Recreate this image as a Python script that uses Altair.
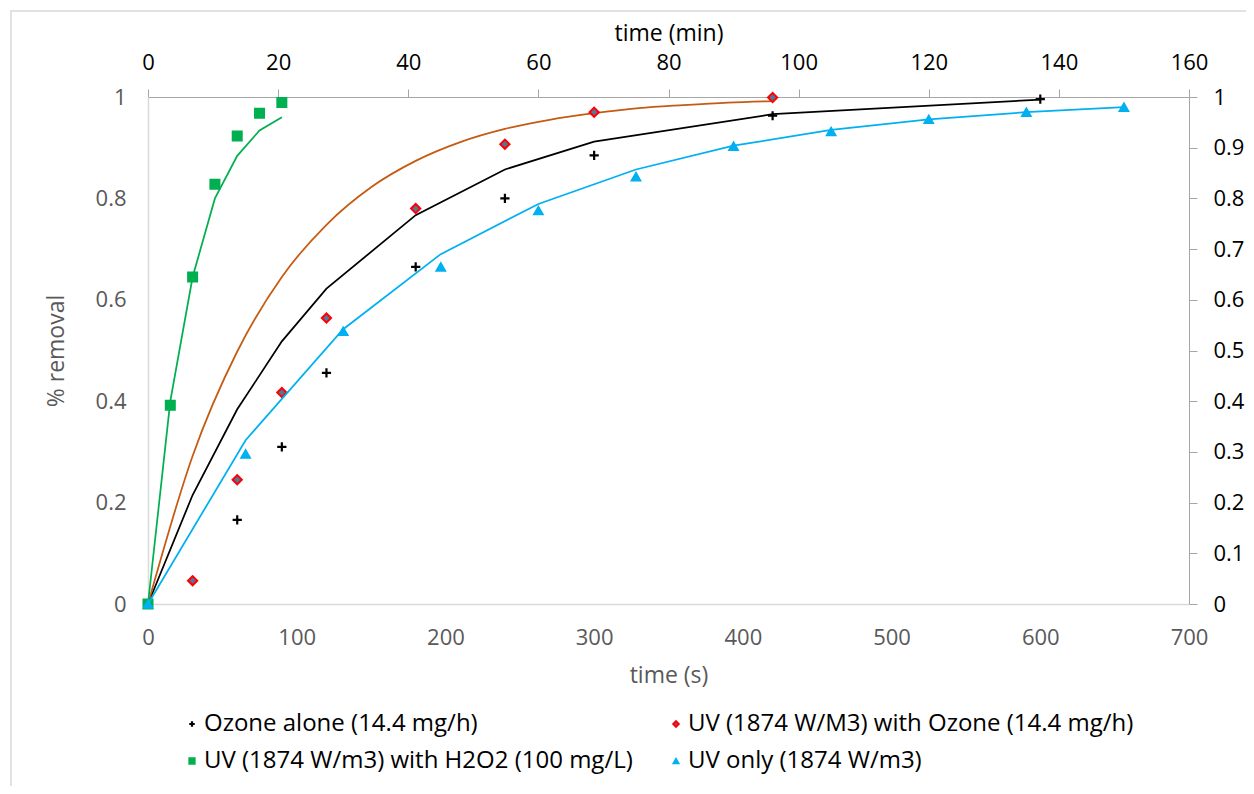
import altair as alt
import pandas as pd

# ---- measured points ----
names = ["Ozone alone (14.4 mg/h)", "UV (1874 W/M3) with Ozone (14.4 mg/h)",
         "UV (1874 W/m3) with H2O2 (100 mg/L)", "UV only (1874 W/m3)"]

ozone_t = [60, 90, 120, 180, 240, 300, 420, 600]
ozone_y = [0.166, 0.31, 0.456, 0.665, 0.80, 0.885, 0.963, 0.996]

uvoz_t = [30, 60, 90, 120, 180, 240, 300, 420]
uvoz_y = [0.046, 0.245, 0.417, 0.564, 0.780, 0.907, 0.970, 0.999]

h2o2_t = [0, 15, 30, 45, 60, 75, 90]
h2o2_y = [0, 0.392, 0.645, 0.828, 0.923, 0.968, 0.989]

uv_min = [0, 15, 30, 45, 60, 75, 90, 105, 120, 135, 150]
uv_y = [0, 0.296, 0.538, 0.665, 0.776, 0.843, 0.903, 0.932, 0.956, 0.970, 0.980]

# ---- model curves ----
ozone_fit_t = [0, 30, 60, 90, 120, 180, 240, 300, 420, 600]
ozone_fit_y = [0, 0.215, 0.384, 0.518, 0.622, 0.767, 0.857, 0.912, 0.966, 0.995]

uvoz_fit_t = [0, 30, 60, 90, 120, 150, 180, 210, 240, 270, 300, 330, 360, 390, 420]
uvoz_fit_y = [0, 0.292, 0.498, 0.645, 0.748, 0.822, 0.874, 0.911, 0.937, 0.955,
              0.968, 0.978, 0.984, 0.989, 0.992]

h2o2_fit_t = [0, 15, 30, 45, 60, 75, 90]
h2o2_fit_y = [0, 0.40, 0.645, 0.80, 0.884, 0.934, 0.960]

uv_fit_min = [0, 15, 30, 45, 60, 75, 90, 105, 120, 135, 150]
uv_fit_y = [0, 0.323, 0.542, 0.690, 0.789, 0.857, 0.904, 0.935, 0.956, 0.970, 0.980]

# ---- axis tick values ----
sec_ticks = [0, 100, 200, 300, 400, 500, 600, 700]
min_ticks = [0, 20, 40, 60, 80, 100, 120, 140, 160]
left_ticks = [0, 0.2, 0.4, 0.6, 0.8, 1]
right_ticks = [0, 0.1, 0.2, 0.3, 0.4, 0.5, 0.6, 0.7, 0.8, 0.9, 1]

FONT = "Open Sans"
GREY_TXT = "#595959"
LBL = 22
TTL = 23

fills = ["transparent", "#55759F", "#00B050", "#00B0F0"]
strokes = ["#000000", "#FF0000", "#00B050", "#00B0F0"]
shapes = ["M-1,0L1,0M0,-1L0,1", "diamond", "square", "triangle-up"]
widths = [2.2, 1.6, 1.2, 1.2]

legend = alt.Legend(
    title=None, orient="none", legendX=32, legendY=615, columns=2, direction="horizontal",
    labelFont=FONT, labelFontSize=24, labelColor="#000000", labelLimit=800,
    symbolSize=30, rowPadding=13, columnPadding=31,
    labelOffset=0, padding=0,
)
fill_enc = alt.Fill("series:N", scale=alt.Scale(domain=names, range=fills), legend=legend)
stroke_enc = alt.Stroke("series:N", scale=alt.Scale(domain=names, range=strokes), legend=legend)
shape_enc = alt.Shape("series:N", scale=alt.Scale(domain=names, range=shapes), legend=legend)
sw_enc = alt.StrokeWidth("series:N", scale=alt.Scale(domain=names, range=widths), legend=legend)

x_sec = alt.X("t:Q", scale=alt.Scale(domain=[0, 700], nice=False, zero=True),
              axis=alt.Axis(orient="bottom", values=sec_ticks, title="time (s)",
                            domainColor="#D9D9D9", domainWidth=1.5, ticks=False,
                            labelColor=GREY_TXT, titleColor=GREY_TXT, labelFlush=False,
                            labelPadding=23, titlePadding=16))
y_left = alt.Y("v:Q", scale=alt.Scale(domain=[0, 1], nice=False),
               axis=alt.Axis(orient="left", values=left_ticks, title="% removal",
                             domainColor="#D9D9D9", domainWidth=1.5, ticks=False,
                             labelColor=GREY_TXT, titleColor=GREY_TXT, labelFlush=False,
                             labelPadding=22, titlePadding=27, format="~g"))

x_min = alt.X("m:Q", scale=alt.Scale(domain=[0, 160], nice=False, zero=True),
              axis=alt.Axis(orient="top", values=min_ticks, title="time (min)",
                            domainColor="#A6A6A6", tickColor="#A6A6A6", tickSize=8,
                            labelColor="#000000", titleColor="#000000", labelFlush=False,
                            labelPadding=15, titlePadding=6))
y_right = alt.Y("v:Q", scale=alt.Scale(domain=[0, 1], nice=False),
                axis=alt.Axis(orient="right", values=right_ticks, title=None,
                              domainColor="#A6A6A6", tickColor="#A6A6A6", tickSize=8,
                              labelColor="#000000", labelPadding=16, labelFlush=False,
                              format="~g"))


def line(ts, ys, color, interp="linear"):
    df = pd.DataFrame({"t": ts, "v": ys})
    return alt.Chart(df).mark_line(color=color, strokeWidth=1.75, interpolate=interp).encode(
        x=x_sec, y=y_left)


def pts(ts, ys, name):
    df = pd.DataFrame({"t": ts, "v": ys, "series": [name] * len(ts)})
    return alt.Chart(df).mark_point(filled=True, opacity=1, size=85).encode(
        x=x_sec, y=y_left, fill=fill_enc, stroke=stroke_enc, shape=shape_enc, strokeWidth=sw_enc)


frame = alt.Chart(pd.DataFrame({"a": [0]})).mark_rect(
    fill="transparent", stroke="#D9D9D9", strokeWidth=1.5
).encode(x=alt.value(-137), y=alt.value(-86), x2=alt.value(1300), y2=alt.value(900))

layer_a = alt.layer(
    frame,
    line(ozone_fit_t, ozone_fit_y, "#000000"),
    line(uvoz_fit_t, uvoz_fit_y, "#C55A11", "monotone"),
    line(h2o2_fit_t, h2o2_fit_y, "#00B050"),
    pts(ozone_t, ozone_y, names[0]),
    pts(uvoz_t, uvoz_y, names[1]),
    pts(h2o2_t, h2o2_y, names[2]),
)

uv_line_df = pd.DataFrame({"m": uv_fit_min, "v": uv_fit_y})
uv_pts_df = pd.DataFrame({"m": uv_min, "v": uv_y, "series": [names[3]] * len(uv_min)})
layer_b = alt.layer(
    alt.Chart(uv_line_df).mark_line(color="#00B0F0", strokeWidth=1.75).encode(x=x_min, y=y_right),
    alt.Chart(uv_pts_df).mark_point(filled=True, opacity=1, size=85).encode(
        x=x_min, y=y_right, fill=fill_enc, stroke=stroke_enc, shape=shape_enc, strokeWidth=sw_enc),
)

chart = alt.layer(layer_a, layer_b).resolve_scale(x="independent", y="independent").properties(
    width=1041, height=507,
    autosize=alt.AutoSizeParams(type="none"),
    padding={"left": 140, "top": 89, "right": 57, "bottom": 182},
).configure_view(stroke=None).configure_axis(
    grid=False, labelFont=FONT, labelFontSize=LBL, titleFont=FONT, titleFontSize=TTL,
    titleFontWeight="normal",
)

chart.save("out.html", embed_options={"renderer": "svg", "actions": False})
